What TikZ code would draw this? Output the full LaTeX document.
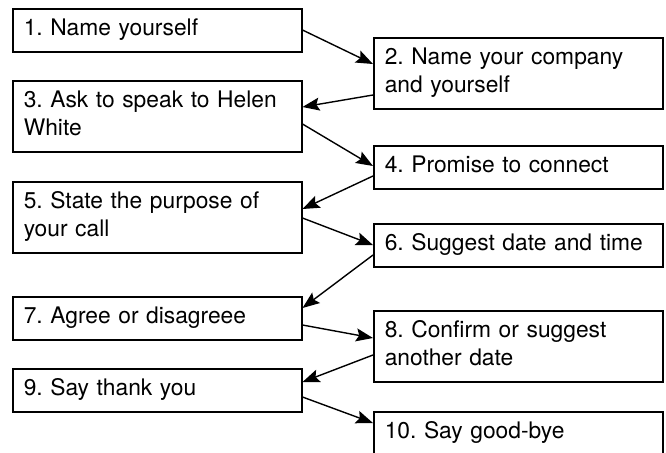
\documentclass[tikz,border=0pt]{standalone}
\usepackage{fontspec}
\setmainfont{TeX Gyre Heros}
\usetikzlibrary{arrows.meta}
\begin{document}
\frenchspacing
\begin{tikzpicture}[x=0.5pt,y=-0.5pt,
  stepbox/.style={draw, line width=0.75pt, anchor=north west, align=left,
    text width=133.5pt, inner xsep=5.5pt, inner ysep=3.75pt,
    font=\fontsize{11.4}{14}\selectfont},
  flow/.style={line width=0.7pt, -{Stealth[length=8.5pt,width=6.5pt,inset=1.5pt]}}]
\useasboundingbox (0,0) rectangle (666,452);
\clip (0,0) rectangle (666,452);
\node[stepbox] (s1) at (12,8) {\strut 1. Name yourself};
\node[stepbox] (s2) at (373,37) {\strut 2. Name your company\\\strut and yourself};
\node[stepbox] (s3) at (12,80) {\strut 3. Ask to speak to Helen\\\strut White};
\node[stepbox] (s4) at (373,145) {\strut 4. Promise to connect};
\node[stepbox] (s5) at (12,181) {\strut 5. State the purpose of\\\strut your call};
\node[stepbox] (s6) at (373,223) {\strut 6. Suggest date and time};
\node[stepbox] (s7) at (12,296) {\strut 7. Agree or disagreee};
\node[stepbox] (s8) at (373,310) {\strut 8. Confirm or suggest\\\strut another date};
\node[stepbox] (s9) at (12,368) {\strut 9. Say thank you};
\node[stepbox] (s10) at (373,411) {\strut 10. Say good-bye};
\path[draw,flow] ([yshift=-11pt]s1.north east) -- ([yshift=-13.5pt]s2.north west);
\path[draw,flow] ([yshift=-29pt]s2.north west) -- ([yshift=-13.5pt]s3.north east);
\path[draw,flow] ([yshift=-22pt]s3.north east) -- ([yshift=-10.5pt]s4.north west);
\path[draw,flow] ([yshift=-15.5pt]s4.north west) -- ([yshift=-14pt]s5.north east);
\path[draw,flow] ([yshift=-18.5pt]s5.north east) -- ([yshift=-11pt]s6.north west);
\path[draw,flow] ([yshift=-16pt]s6.north west) -- ([yshift=-6pt]s7.north east);
\path[draw,flow] ([yshift=-14.5pt]s7.north east) -- ([yshift=-14pt]s8.north west);
\path[draw,flow] ([yshift=-22.5pt]s8.north west) -- ([yshift=-7pt]s9.north east);
\path[draw,flow] ([yshift=-14.5pt]s9.north east) -- ([yshift=-6pt]s10.north west);
\end{tikzpicture}
\end{document}
